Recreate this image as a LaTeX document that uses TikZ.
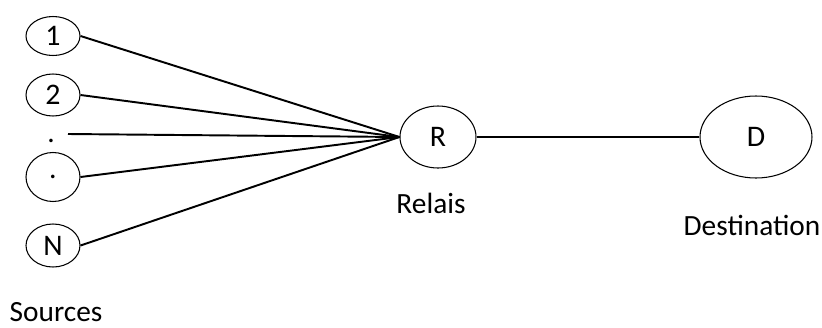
\documentclass[tikz,border=0pt]{standalone}
\usepackage{fontspec}
\setmainfont{Carlito}
\usetikzlibrary{shapes.geometric}
\begin{document}
\begin{tikzpicture}[scale=1,
	nodo/.style={draw, ellipse, line width=0.6pt, inner sep=0pt, font=\fontsize{17}{20}\selectfont},
	enlace/.style={line width=1.1pt},
	etiqueta/.style={font=\fontsize{16.7}{20}\selectfont}]
		\useasboundingbox (0,0) rectangle (16.44,6.54);
		% % Sources
		 	\foreach \name/\y/\h/\label in {
  		 		s1/5.82/0.78/1,
  		 		s2/4.64/0.84/2,
  		 		s3/3.0/0.98/.,
  		 		sN/1.63/0.86/N
		 	}{
  		 		\node[nodo, minimum width=1.08cm, minimum height=\h cm] (\name) at (1.06,\y) {\label};
		 	}
		 	\node[etiqueta, inner sep=0pt] (dot) at (1.02,3.72) {.};
		 	\coordinate (dotstart) at (1.36,3.86);
		 	\node[etiqueta] (sources) at (1.12,0.3) {Sources};
		% % Relay and destination
		 	\node[nodo, minimum width=1.52cm, minimum height=1.24cm] (R) at (8.76,3.8) {R};
		 	\node[etiqueta] (relais) at (8.62,2.48) {Relais};
		 	\node[nodo, minimum width=2.24cm, minimum height=1.64cm] (D) at (15.12,3.8) {D};
		 	\node[etiqueta] (dest) at (15.04,2.04) {Destination};
		% % Links
		 	\foreach \name in {s1,s2,s3,sN}{
  		 		\draw[enlace] (\name.east) -- (R.west);
		 	}
		 	\draw[enlace] (dotstart) -- (R.west);
		 	\draw[enlace] (R.east) -- (D.west);
\end{tikzpicture}
\end{document}
